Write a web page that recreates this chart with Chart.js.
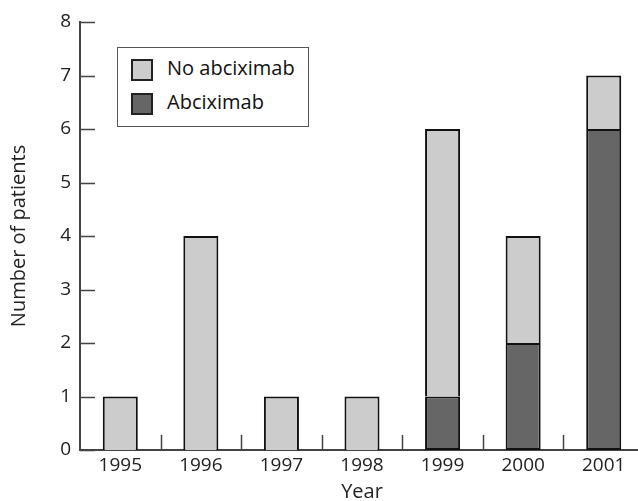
<!DOCTYPE html>
<html>
<head>
<meta charset="utf-8">
<script src="https://cdn.jsdelivr.net/npm/chart.js@4/dist/chart.umd.min.js"></script>
<style>
    html, body { margin: 0; padding: 0; background: #fff; overflow: hidden; }
    #wrap { position: relative; width: 644px; height: 501px; }
    #legendBox {
        position: absolute; left: 117px; top: 47px; width: 190px; height: 78px;
        border: 1.5px solid #555; background: #fff;
        font-family: 'Open Sans', sans-serif; font-size: 20px; color: #111;
    }
    .item { position: absolute; left: 13px; height: 22px; line-height: 22px; }
    .swatch { position: absolute; left: 0; top: 0; width: 18px; height: 18px; border: 2px solid #222; }
    .label { position: absolute; left: 36px; top: -2px; white-space: nowrap; }
</style>
</head>
<body>
<div id="wrap">
    <canvas id="chart"></canvas>
    <div id="legendBox"></div>
</div>
<script>
// Data
const years = ['1995', '1996', '1997', '1998', '1999', '2000', '2001'];
const abciximab = [0, 0, 0, 0, 1, 2, 6];
const noAbciximab = [1, 4, 1, 1, 5, 2, 1];
const yTicks = [0, 1, 2, 3, 4, 5, 6, 7, 8];

const lightGrey = '#cccccc';
const darkGrey = '#666666';
const axisColor = '#444444';
const fontFamily = "'Open Sans', sans-serif";

// Legend (No abciximab on top, like the figure)
const legendItems = [
    { label: 'No abciximab', color: lightGrey },
    { label: 'Abciximab', color: darkGrey }
];
const legendBox = document.getElementById('legendBox');
legendItems.forEach((item, i) => {
    const div = document.createElement('div');
    div.className = 'item';
    div.style.top = (11 + i * 34) + 'px';
    div.innerHTML = `<span class="swatch" style="background:${item.color}"></span><span class="label">${item.label}</span>`;
    legendBox.appendChild(div);
});

// Short inward tick marks on both axes
const tickMarks = {
    id: 'tickMarks',
    afterDraw(chart) {
        const { ctx, chartArea, scales: { x, y } } = chart;
        ctx.save();
        ctx.strokeStyle = axisColor;
        ctx.lineWidth = 1.5;
        ctx.beginPath();
        yTicks.forEach(v => {
            const py = Math.round(y.getPixelForValue(v)) + 0.5;
            ctx.moveTo(chartArea.left, py);
            ctx.lineTo(chartArea.left + 15, py);
        });
        for (let i = 1; i < years.length; i++) {
            const px = Math.round((x.getPixelForValue(i - 1) + x.getPixelForValue(i)) / 2) + 0.5;
            ctx.moveTo(px, chartArea.bottom);
            ctx.lineTo(px, chartArea.bottom - 15);
        }
        ctx.stroke();
        ctx.restore();
    }
};

// no outline for empty segments
const segBorder = c => (c.raw ? 2 : 0);

const ctx = document.getElementById('chart').getContext('2d');
new Chart(ctx, {
    type: 'bar',
    data: {
        labels: years,
        datasets: [
            {
                label: 'Abciximab',
                data: abciximab,
                backgroundColor: darkGrey,
                borderColor: '#111',
                borderWidth: segBorder,
                borderSkipped: false
            },
            {
                label: 'No abciximab',
                data: noAbciximab,
                backgroundColor: lightGrey,
                borderColor: '#111',
                borderWidth: segBorder,
                borderSkipped: 'start'
            }
        ]
    },
    options: {
        responsive: true,
        maintainAspectRatio: false,
        animation: false,
        layout: { padding: { top: 22, right: 0, left: 0, bottom: 0 } },
        datasets: { bar: { barPercentage: 0.435, categoryPercentage: 1 } },
        plugins: {
            legend: { display: false },
            tooltip: { enabled: false }
        },
        scales: {
            x: {
                stacked: true,
                grid: { display: false, drawTicks: false },
                border: { display: true, color: axisColor, width: 2 },
                ticks: { color: '#222', font: { family: fontFamily, size: 19 }, padding: 4 },
                title: {
                    display: true, text: 'Year', color: '#222',
                    font: { family: fontFamily, size: 20 },
                    padding: { top: 0, bottom: -3 }
                },
                afterFit(scale) { scale.height = 51; }
            },
            y: {
                stacked: true,
                min: 0,
                max: 8,
                grid: { display: false, drawTicks: false },
                border: { display: true, color: axisColor, width: 2 },
                ticks: {
                    stepSize: 1, color: '#222', padding: 9,
                    font: { family: fontFamily, size: 19 }
                },
                title: {
                    display: true, text: 'Number of patients', color: '#222',
                    font: { family: fontFamily, size: 20 },
                    padding: { top: 7, bottom: 0 }
                },
                afterFit(scale) { scale.width = 80; }
            }
        }
    },
    plugins: [tickMarks]
});
</script>
</body>
</html>
